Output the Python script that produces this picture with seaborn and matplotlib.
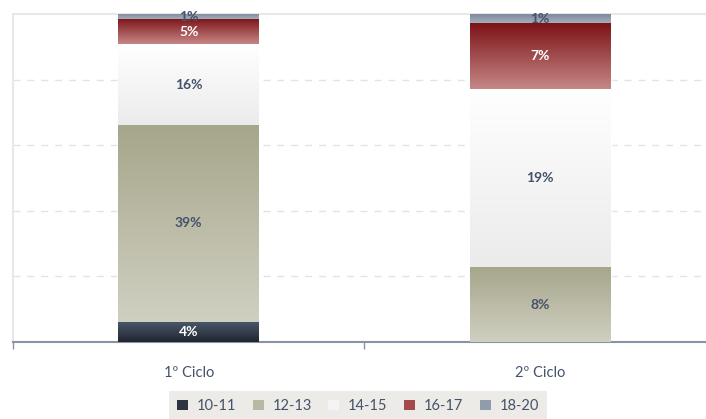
import numpy as np
import pandas as pd
import matplotlib.pyplot as plt
import seaborn as sns
from matplotlib.colors import LinearSegmentedColormap
from matplotlib.patches import Patch

# Dados: percentagens por ciclo e faixa de notas
ciclos = ["1º Ciclo", "2º Ciclo"]
faixas = ["10-11", "12-13", "14-15", "16-17", "18-20"]
v_10_11 = [4, 0]
v_12_13 = [39, 8]
v_14_15 = [16, 19]
v_16_17 = [5, 7]
v_18_20 = [1, 1]

# Cores (gradiente topo -> base)
cor_topo = ["#4b596e", "#a6a68b", "#ffffff", "#7c1318", "#7a879a"]
cor_base = ["#20262f", "#d0d0c2", "#ebebeb", "#c68786", "#a4aebb"]
cor_legenda = ["#2c3441", "#b9b9a3", "#f4f4f4", "#a3484b", "#909bab"]
cor_rotulo = ["white", "#44526a", "#44526a", "white", "#44526a"]
cor_texto = "#44526a"

valores = np.array([v_10_11, v_12_13, v_14_15, v_16_17, v_18_20], dtype=float)
pct = valores / valores.sum(axis=0) * 100
topo = pct.cumsum(axis=0)
base = topo - pct

sns.set_theme(style="white")
plt.rcParams["font.family"] = ["Lato", "DejaVu Sans"]

fig = plt.figure(figsize=(7.06, 4.19), dpi=100)
ax = fig.add_axes([13 / 706, 77 / 419, 703 / 706, 328 / 419])

# barras empilhadas (truque do acumulado, da maior para a menor)
barras = {}
for i in range(len(faixas) - 1, -1, -1):
    df = pd.DataFrame({"ciclo": ciclos, "valor": topo[i]})
    sns.barplot(data=df, x="ciclo", y="valor", color=cor_base[i], width=0.4,
                ax=ax, zorder=2, saturation=1)
    barras[i] = ax.patches[-len(ciclos):]

# gradiente em cada segmento
grad = np.linspace(0, 1, 256).reshape(-1, 1)
for i in range(len(faixas)):
    cmap = LinearSegmentedColormap.from_list(faixas[i], [cor_topo[i], cor_base[i]])
    for j, p in enumerate(barras[i]):
        if pct[i, j] <= 0:
            continue
        x0 = p.get_x()
        x1 = x0 + p.get_width()
        ax.imshow(grad, extent=[x0, x1, base[i, j], topo[i, j]], origin="upper",
                  aspect="auto", cmap=cmap, zorder=3, interpolation="bilinear")
        if valores[i, j] > 0:
            ax.text(x0 + p.get_width() / 2, (base[i, j] + topo[i, j]) / 2,
                    f"{valores[i, j]:.0f}%", ha="center", va="center",
                    fontsize=10, fontweight="bold", color=cor_rotulo[i], zorder=4)

ax.set_xlim(-0.5, 1.5)
ax.set_ylim(0, 100)
ax.set_xlabel("")
ax.set_ylabel("")

ax.set_yticks([20, 40, 60, 80])
ax.set_yticklabels([])
ax.tick_params(axis="y", length=0)
ax.yaxis.grid(True, linestyle=(0, (5, 5)), color="#e3e3e3", linewidth=1)
ax.set_axisbelow(True)

ax.set_xticks([-0.5, 0.5, 1.5], minor=True)
ax.tick_params(axis="x", which="minor", bottom=True, length=5, width=1,
               color="#8893a3", direction="out")
ax.tick_params(axis="x", which="major", length=0, pad=17, labelsize=10.5,
               labelcolor=cor_texto)

for s in ["top", "left"]:
    ax.spines[s].set_color("#e8e8e8")
    ax.spines[s].set_linewidth(1.5)
ax.spines["right"].set_visible(False)
ax.spines["bottom"].set_color("#8893a3")
ax.spines["bottom"].set_linewidth(1.5)

handles = [Patch(facecolor=c, edgecolor="none") for c in cor_legenda]
leg = fig.legend(handles, faixas, ncol=5, loc="lower center",
                 bbox_to_anchor=(358 / 706, -0.005), frameon=True,
                 facecolor="#e9e6e3", edgecolor="none", fancybox=False,
                 handlelength=0.75, handleheight=0.75, handletextpad=0.6,
                 columnspacing=1.15, fontsize=10.5, borderpad=0.55,
                 borderaxespad=0)
for t in leg.get_texts():
    t.set_color(cor_texto)

fig.savefig("out.png", dpi=100)
